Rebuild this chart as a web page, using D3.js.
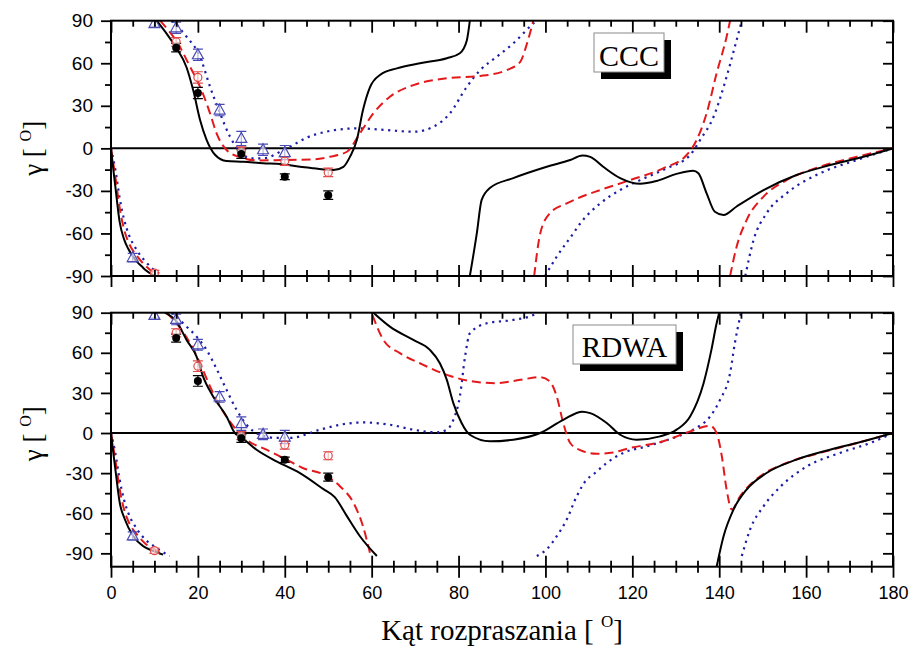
<!DOCTYPE html>
<html><head><meta charset="utf-8">
<script src="https://cdn.jsdelivr.net/npm/d3@7"></script>
<style>body{margin:0;background:#fff}</style>
</head><body><svg id="c" width="914" height="649"></svg>
<script>
// ---------- data ----------
const xMajorTicks = [0,20,40,60,80,100,120,140,160,180];
const xMinorTicks = d3.range(0,181,5).filter(d => d % 20 !== 0);
const yMajorTicks = [-90,-60,-30,0,30,60,90];
const yMinorTicks = [-75,-45,-15,15,45,75];

// experimental points: [angle, gamma, error]
const expBlack = [[15,71,3],[20,39,4],[30,-4,3],[40,-20,2],[50,-33,3]];
const expRed   = [[10,-88,2],[15,75,3],[20,50,4],[30,-2,3],[40,-9,3],[50,-17,3]];
const expBlue  = [[5,-77,3],[10,88,2],[15,85,4],[20,66,4],[25,27,4],[30,7,5],[35,-1,4],[40,-3,5]];

// CCC theory (branches split where gamma wraps at +/-90)
const cccBlack = [
  [[0,0],[0.5,-14],[1,-27],[2,-52],[3,-64],[4,-71],[5,-76],[6,-80],[7,-83],[8,-86],[9,-88],[10,-90]],
  [[10.5,90],[13,80],[15,71],[17.4,57],[19,40],[20.5,20],[22,6],[24,-4.7],[26.6,-9],[30.5,-9.5],[35,-10.5],[39,-11],[43.5,-13],[46.6,-14],[51.2,-15.3],[53.5,-13],[55,-6],[56.6,6],[58,27],[59.6,43],[61.9,51.7],[65.8,56.4],[71.1,60],[77.3,63.5],[80.3,67],[81.9,76],[82.6,90]],
  [[82.6,-90],[84.2,-60],[85.3,-36.5],[87.2,-28],[92.6,-21],[100.3,-13],[105.7,-8.2],[108.5,-5],[110.3,-6],[113.3,-13],[117.2,-21],[121.8,-25],[125.6,-23],[130.2,-18],[134,-15.8],[135.2,-17.6],[137.1,-31.7],[139,-44.7],[141,-47],[144,-41],[150.2,-29.4],[157.8,-18.8],[165.5,-11.8],[173.2,-5.9],[180,0]]
];
const cccRed = [
  [[0,0],[1,-20],[2,-42],[3,-57],[4,-66],[6,-76],[8,-83],[10,-88],[11,-90]],
  [[11.3,90],[13,84],[15,76],[18.2,57.5],[20.5,43.4],[22.8,24.7],[24.3,10.6],[26.6,-1.2],[29.7,-6.3],[33.5,-8.5],[40,-8.2],[46.6,-7.8],[50.4,-5.9],[54.3,-2.4],[57.3,10.6],[60.4,24.7],[64.2,36.4],[69.6,44.6],[77.3,49.4],[85,51],[91.1,55.2],[94.2,61],[95.7,73.4],[97.2,90]],
  [[97.4,-90],[98.8,-60],[101,-45.8],[104.9,-38.8],[108,-34.5],[112.6,-29.4],[119.5,-22.4],[127.1,-14.1],[132.5,-4.7],[134.8,5.9],[137.1,24.7],[139.4,52.9],[141.7,78.7],[142.5,90]],
  [[142.5,-90],[144,-69.4],[146.3,-50.6],[150.2,-34],[155.5,-22.4],[163.2,-13],[171.7,-5.9],[180,0]]
];
const cccBlue = [
  [[0,0],[1,-15],[2,-35],[3,-50],[4,-60],[6,-72],[8,-80],[10,-86],[12,-90]],
  [[14,90],[17.4,78.7],[20.5,64.6],[22.8,43.4],[25.1,24.7],[27.4,8.2],[29.7,-2.4],[32,-7],[35,-7],[40.4,0],[46.6,9.4],[56.6,14.1],[63.5,12.9],[69.6,11.7],[74.2,15.2],[78,24.7],[81.9,43.4],[85,55.2],[88.8,64.6],[92.6,74],[97.2,88.1],[97.9,90]],
  [[99.9,-90],[102.6,-76.4],[106.4,-60],[108,-53],[112.6,-38.8],[117.2,-29.4],[121.8,-22.4],[127.9,-14.1],[133.3,-4.7],[135.6,5.9],[138.7,22.3],[141.7,50.5],[143.6,71.7],[145.2,90]],
  [[146,-90],[147.9,-64.7],[150.9,-45.8],[155.5,-31.7],[163.2,-17.6],[171.7,-8.2],[180,0]]
];

// RDWA theory
const rdwaBlack = [
  [[0,0],[0.5,-14],[1,-27],[2,-52],[3.2,-64.7],[5.1,-77],[7.4,-84.6],[9.5,-88],[12,-91]],
  [[12.4,90],[15.1,83.3],[17.4,69.6],[19.7,57.2],[21.2,42.2],[23.5,27.3],[26.6,12.4],[28.5,0],[29.7,-2.5],[33.5,-12.5],[38.1,-21.2],[43.5,-30],[48.9,-42],[51.5,-48],[54.3,-62.2],[57.3,-77.2],[61.2,-92]],
  [[60.4,90],[64.2,79.6],[69.6,69.6],[73.4,62.2],[75.7,52.2],[77.3,39.8],[78.8,22.4],[80.7,7.5],[82.6,-1.3],[87.2,-6.2],[92.6,-5],[98.8,0],[104.1,9.9],[108.5,16],[110.3,14.9],[114.1,7.5],[117.2,-1.3],[121,-5],[126.4,-2.5],[130.2,2.5],[133.3,12.4],[136.4,37.3],[138.2,62.2],[139.4,82.1],[140,90]],
  [[139.4,-100],[141,-77.2],[143.3,-57.2],[146.3,-42.3],[150.9,-29.9],[157.8,-19.9],[165.5,-12.5],[173.2,-6.2],[180,0]]
];
const rdwaRed = [
  [[0,0],[1,-20],[2,-42],[3,-57],[4,-66],[6,-76],[8,-83],[10,-87],[12,-91]],
  [[12.8,90],[15.1,82],[18.2,67.2],[20.5,52.2],[22.8,34.8],[25.1,19.9],[28.2,5],[31.2,-5],[35.8,-12.5],[40.4,-19.9],[44,-26],[48.9,-31],[52.7,-39.8],[55.8,-52.2],[58,-69.7],[59.6,-89.6]],
  [[60.2,88],[62.7,69.6],[66.5,59.7],[71.1,52.2],[77.3,43.5],[83.4,38.5],[88.8,37.3],[94.2,39.8],[98.8,41.8],[101,38.5],[102.6,27.3],[104.1,7.5],[105.7,-7.5],[108,-12.8],[111.8,-15.5],[115.6,-14.5],[119.5,-11.2],[127.1,-6.2],[133.3,1.2],[137.9,5.4],[139.4,0],[140.6,-17.4],[141.7,-42.3],[142.9,-57.2],[144.8,-47.3],[149.4,-32.4],[155.5,-22.4],[163.2,-14.9],[171.7,-7.5],[180,0]]
];
const rdwaBlue = [
  [[0,0],[1,-15],[2,-35],[3,-50],[4,-60],[6,-72],[8,-80],[10,-85],[13.5,-92]],
  [[14,90],[17.4,79.6],[19.7,72.1],[22,62.2],[24.4,47.3],[26.6,32.3],[28.9,17.4],[31.2,6.2],[34.3,-1.3],[38.1,-3.7],[41.2,-3.7],[48.1,2.5],[52.7,6.2],[58,7.9],[64.2,6.2],[69.6,2.5],[75,0.5],[77.3,2.5],[78.8,9.9],[80.3,27.3],[81.5,57.2],[82.6,74.6],[86.5,82.1],[92.6,84.6],[97.2,88.3],[97.9,90]],
  [[98,-92],[100.3,-87],[102.6,-77.2],[104.9,-64.7],[107.2,-47.3],[109.5,-34.8],[111,-31],[114.1,-22.4],[117.9,-14.9],[123.3,-10],[129.4,-3.7],[134,2.5],[137.9,12.4],[140.2,24.9],[142.5,44.8],[143.6,67.2],[144.8,87],[145,90]],
  [[145.2,-92],[147.1,-72.2],[150.2,-54.8],[154.2,-39.8],[160.2,-24.9],[167.8,-14.9],[174.7,-7.5],[180,0]]
];

const panelNames = ["CCC","RDWA"];
const xTitle = "Kąt rozpraszania [ ";
const yTitle = "γ [ ";
const degMark = "O";

// ---------- drawing ----------
const svg = d3.select("#c");
const X0 = 111, X1 = 893;
const x = d3.scaleLinear().domain([0,180]).range([X0,X1]);
const RED = "#e3191c", BLUE = "#1c1ca6", TRI = "#4a4ab4", REDPT = "#e04a4a";

const panels = [
  {name: panelNames[0], dom:[-90,90], top:20.7, bot:276, curves:[cccBlack,cccRed,cccBlue], labels:false,
   box:{x:594,y:33,w:70,h:39,fs:30,base:65.5}},
  {name: panelNames[1], dom:[-100,90], top:312.7, bot:566.7, curves:[rdwaBlack,rdwaRed,rdwaBlue], labels:true,
   box:{x:573,y:325,w:103,h:39,fs:29,base:357}}
];

const styles = [
  {stroke:"#000", dash:null, w:2},
  {stroke:RED, dash:"9,5", w:2},
  {stroke:BLUE, dash:"2.2,4.6", w:2.2}
];

panels.forEach((p,i) => {
  const y = d3.scaleLinear().domain(p.dom).range([p.bot,p.top]);
  const g = svg.append("g");
  const cid = "clip"+i;
  svg.append("clipPath").attr("id",cid).append("rect")
    .attr("x",X0).attr("y",p.top).attr("width",X1-X0).attr("height",p.bot-p.top);

  const line = d3.line().x(d=>x(d[0])).y(d=>y(d[1])).curve(d3.curveMonotoneX);
  const cg = g.append("g").attr("clip-path",`url(#${cid})`);

  cg.append("line").attr("x1",X0).attr("x2",X1).attr("y1",y(0)).attr("y2",y(0))
    .attr("stroke","#000").attr("stroke-width",2);

  [2,1,0].forEach(k => {
    const st = styles[k];
    p.curves[k].forEach(br => {
      cg.append("path").attr("d",line(br)).attr("fill","none")
        .attr("stroke",st.stroke).attr("stroke-width",st.w)
        .attr("stroke-dasharray",st.dash);
    });
  });

  const errbars = (data,color) => {
    data.forEach(d => {
      const xx = x(d[0]), y1 = y(d[1]+d[2]), y2 = y(d[1]-d[2]);
      cg.append("line").attr("x1",xx).attr("x2",xx).attr("y1",y1).attr("y2",y2).attr("stroke",color).attr("stroke-width",1.2);
      [y1,y2].forEach(yy => cg.append("line").attr("x1",xx-5).attr("x2",xx+5).attr("y1",yy).attr("y2",yy).attr("stroke",color).attr("stroke-width",1.2));
    });
  };
  errbars(expBlue,TRI);
  errbars(expRed,REDPT);
  errbars(expBlack,"#000");
  cg.selectAll(null).data(expBlue).enter().append("path")
    .attr("d", d => { const xx=x(d[0]), yy=y(d[1]); return `M${xx},${yy-6}L${xx+5.5},${yy+4}L${xx-5.5},${yy+4}Z`; })
    .attr("fill","#fff").attr("fill-opacity",0.6).attr("stroke",TRI).attr("stroke-width",1.2);
  cg.selectAll(null).data(expRed).enter().append("circle")
    .attr("cx",d=>x(d[0])).attr("cy",d=>y(d[1])).attr("r",4)
    .attr("fill","#fff").attr("fill-opacity",0.6).attr("stroke",REDPT).attr("stroke-width",1.2);
  cg.selectAll(null).data(expBlack).enter().append("circle")
    .attr("cx",d=>x(d[0])).attr("cy",d=>y(d[1])).attr("r",4).attr("fill","#000");

  g.append("rect").attr("x",X0).attr("y",p.top).attr("width",X1-X0).attr("height",p.bot-p.top)
    .attr("fill","none").attr("stroke","#000").attr("stroke-width",2);

  const tickStyle = sel => { sel.select(".domain").remove(); sel.selectAll("line").attr("stroke","#000").attr("stroke-width",1.8); };

  g.append("g").attr("transform",`translate(${X0},0)`)
    .call(d3.axisLeft(y).tickValues(yMajorTicks).tickSize(10).tickPadding(8).tickFormat(d=>String(d)))
    .call(tickStyle)
    .call(s=>s.selectAll("text").attr("font-family","Liberation Sans, Arial, sans-serif").attr("font-size",19).attr("fill","#000"));
  g.append("g").attr("transform",`translate(${X0},0)`)
    .call(d3.axisLeft(y).tickValues(yMinorTicks).tickSize(6).tickFormat(""))
    .call(tickStyle);
  g.append("g").attr("transform",`translate(${X1},0)`)
    .call(d3.axisRight(y).tickValues(yMajorTicks).tickSize(-10).tickFormat(""))
    .call(tickStyle);
  g.append("g").attr("transform",`translate(${X1},0)`)
    .call(d3.axisRight(y).tickValues(yMinorTicks).tickSize(-7).tickFormat(""))
    .call(tickStyle);
  g.append("g").attr("transform",`translate(0,${p.top})`)
    .call(d3.axisTop(x).tickValues(xMajorTicks).tickSize(-12).tickFormat(""))
    .call(tickStyle);
  g.append("g").attr("transform",`translate(0,${p.top})`)
    .call(d3.axisTop(x).tickValues(xMinorTicks).tickSize(-6).tickFormat(""))
    .call(tickStyle);
  g.append("g").attr("transform",`translate(0,${p.bot})`)
    .call(d3.axisBottom(x).tickValues(xMajorTicks).tickSize(11).tickPadding(9).tickFormat(p.labels ? (d=>String(d)) : ""))
    .call(tickStyle)
    .call(s=>s.selectAll("line").attr("y1",-11))
    .call(s=>s.selectAll("text").attr("font-family","Liberation Sans, Arial, sans-serif").attr("font-size",18).attr("fill","#000"));
  g.append("g").attr("transform",`translate(0,${p.bot})`)
    .call(d3.axisBottom(x).tickValues(xMinorTicks).tickSize(6).tickFormat(""))
    .call(tickStyle)
    .call(s=>s.selectAll("line").attr("y1",-6));

  const yt = g.append("text").attr("transform",`translate(42,${(p.top+p.bot)/2 + (i?-6:0)}) rotate(-90)`)
    .attr("text-anchor","middle").attr("font-family","Liberation Serif, Times New Roman, serif")
    .attr("font-size",27).attr("fill","#000");
  yt.append("tspan").text(yTitle);
  yt.append("tspan").attr("font-size",16).attr("dy",-11).text(degMark);
  yt.append("tspan").attr("dy",11).text("]");

  const b = p.box;
  g.append("rect").attr("x",b.x+7).attr("y",b.y+7).attr("width",b.w).attr("height",b.h).attr("fill","#000");
  g.append("rect").attr("x",b.x).attr("y",b.y).attr("width",b.w).attr("height",b.h).attr("fill","#fff").attr("stroke","#8a8a8a").attr("stroke-width",1);
  g.append("text").attr("x",b.x+b.w/2).attr("y",b.base).attr("text-anchor","middle")
    .attr("font-family","Liberation Serif, Times New Roman, serif").attr("font-size",b.fs).attr("fill","#000").text(p.name);
});

const xt = svg.append("text").attr("x",(X0+X1)/2).attr("y",640).attr("text-anchor","middle")
  .attr("font-family","Liberation Serif, Times New Roman, serif").attr("font-size",29).attr("fill","#000");
xt.append("tspan").text(xTitle);
xt.append("tspan").attr("font-size",17).attr("dy",-13).text(degMark);
xt.append("tspan").attr("dy",13).text("]");
</script>
</body></html>
